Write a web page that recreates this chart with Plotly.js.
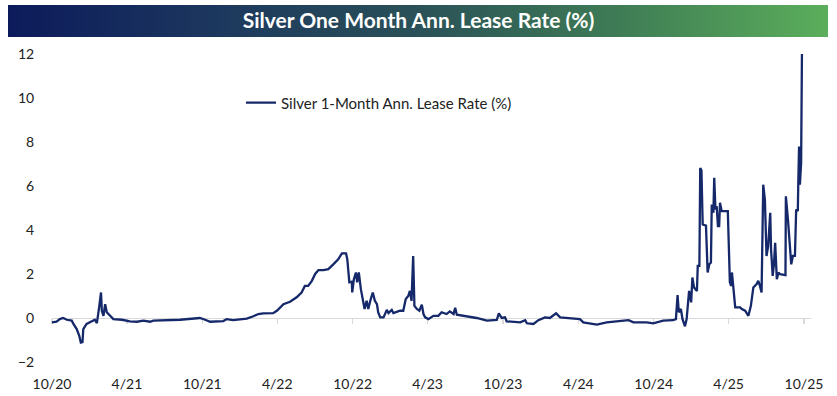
<!DOCTYPE html>
<html>
<head>
<meta charset="utf-8">
<script src="https://cdn.plot.ly/plotly-3.0.1.min.js"></script>
<style>
html,body{margin:0;padding:0;background:#fff;}
#chart{width:837px;height:396px;}
</style>
</head>
<body>
<div id="chart"></div>
<script>
// ---- data ----
const chartTitle = "Silver One Month Ann. Lease Rate (%)";
const seriesName = "Silver 1-Month Ann. Lease Rate (%)";

const dates = [
"2020-10-01","2020-10-12","2020-10-20","2020-10-28","2020-11-06","2020-11-18","2020-11-22","2020-11-30",
"2020-12-06","2020-12-10","2020-12-14","2020-12-16","2020-12-24","2021-01-04","2021-01-13","2021-01-18",
"2021-01-21","2021-01-24","2021-01-28","2021-01-30","2021-02-03","2021-02-07","2021-02-11","2021-02-19",
"2021-02-27","2021-03-20","2021-04-08","2021-04-25","2021-05-11","2021-05-27","2021-06-04","2021-08-08",
"2021-09-05","2021-09-25","2021-10-08","2021-10-20","2021-11-21","2021-11-29","2021-12-15","2022-01-17",
"2022-02-02","2022-02-14","2022-02-26","2022-03-22","2022-03-31","2022-04-16","2022-05-02","2022-05-18",
"2022-05-30","2022-06-07","2022-06-15","2022-06-24","2022-07-02","2022-07-10","2022-07-22","2022-08-03",
"2022-08-15","2022-08-27","2022-09-05","2022-09-15","2022-09-18","2022-09-23","2022-09-29","2022-09-30",
"2022-10-04","2022-10-09","2022-10-12","2022-10-16","2022-10-21","2022-10-26","2022-10-30","2022-11-04",
"2022-11-08","2022-11-14","2022-11-19","2022-11-24","2022-11-29","2022-12-02","2022-12-07","2022-12-15",
"2022-12-23","2022-12-27","2023-01-04","2023-01-08","2023-01-24","2023-02-01","2023-02-07","2023-02-13",
"2023-02-17","2023-02-21","2023-02-25","2023-02-28","2023-03-06","2023-03-12","2023-03-18","2023-03-22",
"2023-03-26","2023-04-03","2023-04-15","2023-04-27","2023-05-05","2023-05-17","2023-05-25","2023-06-03",
"2023-06-07","2023-06-11","2023-06-27","2023-07-13","2023-07-29","2023-08-23","2023-09-16","2023-09-21",
"2023-09-28","2023-10-06","2023-10-10","2023-11-12","2023-11-24","2023-11-28","2023-12-14","2023-12-26",
"2024-01-11","2024-01-23","2024-02-07","2024-02-17","2024-03-04","2024-04-05","2024-04-13","2024-05-16",
"2024-06-09","2024-07-11","2024-08-01","2024-08-13","2024-09-14","2024-09-30","2024-10-24","2024-11-17",
"2024-11-24","2024-11-28","2024-12-01","2024-12-06","2024-12-10","2024-12-16","2024-12-20","2024-12-26",
"2024-12-31","2025-01-03","2025-01-07","2025-01-14","2025-01-16","2025-01-20","2025-01-22","2025-01-25",
"2025-01-28","2025-02-05","2025-02-09","2025-02-13","2025-02-17","2025-02-19","2025-02-23","2025-02-25",
"2025-02-28","2025-03-03","2025-03-06","2025-03-09","2025-03-11","2025-03-15","2025-03-30","2025-04-04",
"2025-04-07","2025-04-09","2025-04-12","2025-04-17","2025-04-29","2025-05-03","2025-05-11","2025-05-19",
"2025-05-25","2025-05-31","2025-06-08","2025-06-12","2025-06-16","2025-06-20","2025-06-24","2025-06-28",
"2025-07-02","2025-07-06","2025-07-11","2025-07-13","2025-07-17","2025-07-20","2025-07-23","2025-07-27",
"2025-07-31","2025-08-04","2025-08-17","2025-08-18","2025-08-23","2025-08-28","2025-08-31","2025-09-04",
"2025-09-09","2025-09-12","2025-09-16","2025-09-17","2025-09-19","2025-09-21","2025-09-24","2025-09-26"
];

const leaseRate = [
-0.20,-0.17,-0.05,0.00,-0.08,-0.12,-0.27,-0.50,
-0.80,-1.12,-1.10,-0.50,-0.27,-0.17,-0.08,-0.23,
0.33,0.56,1.16,0.33,0.10,0.63,0.26,0.10,
-0.05,-0.08,-0.15,-0.17,-0.12,-0.17,-0.12,-0.08,
-0.02,0.00,-0.08,-0.17,-0.14,-0.05,-0.10,-0.03,
0.08,0.18,0.21,0.22,0.33,0.63,0.74,0.94,
1.16,1.46,1.46,1.69,2.00,2.18,2.18,2.22,
2.44,2.67,2.94,2.94,2.67,1.62,1.65,1.16,
1.76,2.07,1.62,2.07,1.31,0.71,0.41,0.78,
0.41,0.86,1.16,0.78,0.63,0.26,0.03,0.03,
0.37,0.22,0.37,0.22,0.33,0.33,0.86,1.00,
1.23,0.78,2.82,0.55,0.41,0.33,0.60,0.18,
0.03,-0.05,0.10,0.10,0.26,0.18,0.30,0.18,
0.46,0.15,0.10,0.03,0.00,-0.12,-0.09,0.21,
0.00,0.03,-0.15,-0.20,-0.10,-0.24,-0.27,-0.10,
0.03,0.00,0.21,0.03,0.00,-0.05,-0.20,-0.30,
-0.20,-0.15,-0.10,-0.20,-0.20,-0.24,-0.12,-0.10,
-0.05,1.04,0.26,0.41,-0.05,-0.38,-0.05,1.23,
0.71,1.84,1.39,1.23,2.37,2.37,6.82,6.71,
4.25,4.20,2.07,2.44,2.52,5.16,4.78,6.37,
4.93,5.08,4.18,4.18,5.24,4.86,4.86,1.62,
1.46,2.07,1.46,0.48,0.48,0.41,0.33,0.10,
0.55,1.39,1.54,1.69,1.46,1.16,6.06,5.38,
2.82,3.27,4.78,3.12,1.91,2.44,3.42,1.76,
2.07,1.99,1.95,5.53,4.48,3.12,2.44,2.82,
2.82,4.93,4.86,5.99,7.80,6.06,7.04,12.00
];

const xTickVals = ["2020-10-01","2021-04-01","2021-10-01","2022-04-01","2022-10-01","2023-04-01",
                   "2023-10-01","2024-04-01","2024-10-01","2025-04-01","2025-10-01"];
const xTickText = ["10/20","4/21","10/21","4/22","10/22","4/23","10/23","4/24","10/24","4/25","10/25"];
const yTickVals = [-2,0,2,4,6,8,10,12];

// ---- styling ----
const FONT = "Lato, 'Open Sans', sans-serif";
const lineColor = "#14286a";
const gridGray = "#d9d9d9";

const gradSvg = "<svg xmlns='http://www.w3.org/2000/svg' width='820' height='32' viewBox='0 0 820 32' preserveAspectRatio='none'>" +
  "<defs><linearGradient id='g' x1='0' y1='0' x2='1' y2='0'>" +
  "<stop offset='0' stop-color='#0c1a5b'/>" +
  "<stop offset='0.25' stop-color='#1c375e'/>" +
  "<stop offset='0.5' stop-color='#2a5158'/>" +
  "<stop offset='0.75' stop-color='#3f7d55'/>" +
  "<stop offset='1' stop-color='#5bae5b'/>" +
  "</linearGradient></defs><rect x='0' y='0' width='820' height='32' fill='url(#g)'/></svg>";
const gradURI = "data:image/svg+xml;charset=utf-8," + encodeURIComponent(gradSvg);

const traces = [
  {
    x: dates, y: leaseRate, type: "scatter", mode: "lines",
    name: seriesName,
    line: {color: lineColor, width: 2.3},
    hoverinfo: "skip"
  },
  {
    // carrier for the zero-crossing axis with tick marks
    x: [xTickVals[0]], y: [0], xaxis: "x2", type: "scatter", mode: "markers",
    marker: {opacity: 0}, showlegend: false, hoverinfo: "skip"
  }
];

const layout = {
  width: 837, height: 396,
  margin: {l: 52, r: 26, t: 54, b: 34, pad: 0},
  paper_bgcolor: "#ffffff", plot_bgcolor: "#ffffff",
  font: {family: FONT, size: 14, color: "#222222"},
  title: {
    text: "<b>" + chartTitle + "</b>",
    font: {family: FONT, size: 21, color: "#ffffff"},
    x: 0.5, xref: "container", xanchor: "center",
    y: 1 - 21/396, yref: "container", yanchor: "middle"
  },
  images: [{
    source: gradURI, xref: "paper", yref: "paper",
    x: -44/759, y: 357/308, sizex: 820/759, sizey: 32/308,
    xanchor: "left", yanchor: "top", sizing: "stretch", layer: "below"
  }],
  showlegend: true,
  legend: {
    x: 0.2490, y: 0.841, xanchor: "left", yanchor: "middle",
    bgcolor: "rgba(0,0,0,0)", borderwidth: 0,
    font: {family: FONT, size: 15, color: "#222222"}
  },
  xaxis: {
    type: "date",
    range: ["2020-10-01", "2025-10-18"],
    tickmode: "array", tickvals: xTickVals, ticktext: xTickText,
    showgrid: false, zeroline: false, showline: false,
    ticks: "outside", ticklen: 9, tickcolor: "rgba(0,0,0,0)",
    tickfont: {family: FONT, size: 14, color: "#222222"},
    fixedrange: true
  },
  xaxis2: {
    type: "date", overlaying: "x", matches: "x",
    anchor: "free", position: 2/14,
    range: ["2020-10-01", "2025-10-18"],
    tickmode: "array", tickvals: xTickVals,
    showticklabels: false, showgrid: false, zeroline: false,
    showline: true, linecolor: gridGray, linewidth: 1.2,
    ticks: "outside", ticklen: 5, tickcolor: gridGray, tickwidth: 1.2,
    layer: "below traces"
  },
  yaxis: {
    range: [-2, 12],
    tickmode: "array", tickvals: yTickVals,
    showgrid: false, zeroline: false, showline: false,
    ticks: "outside", ticklen: 14, tickcolor: "rgba(0,0,0,0)",
    tickfont: {family: FONT, size: 14, color: "#222222"},
    fixedrange: true
  }
};

Plotly.newPlot("chart", traces, layout, {displayModeBar: false, staticPlot: true});
</script>
</body>
</html>
